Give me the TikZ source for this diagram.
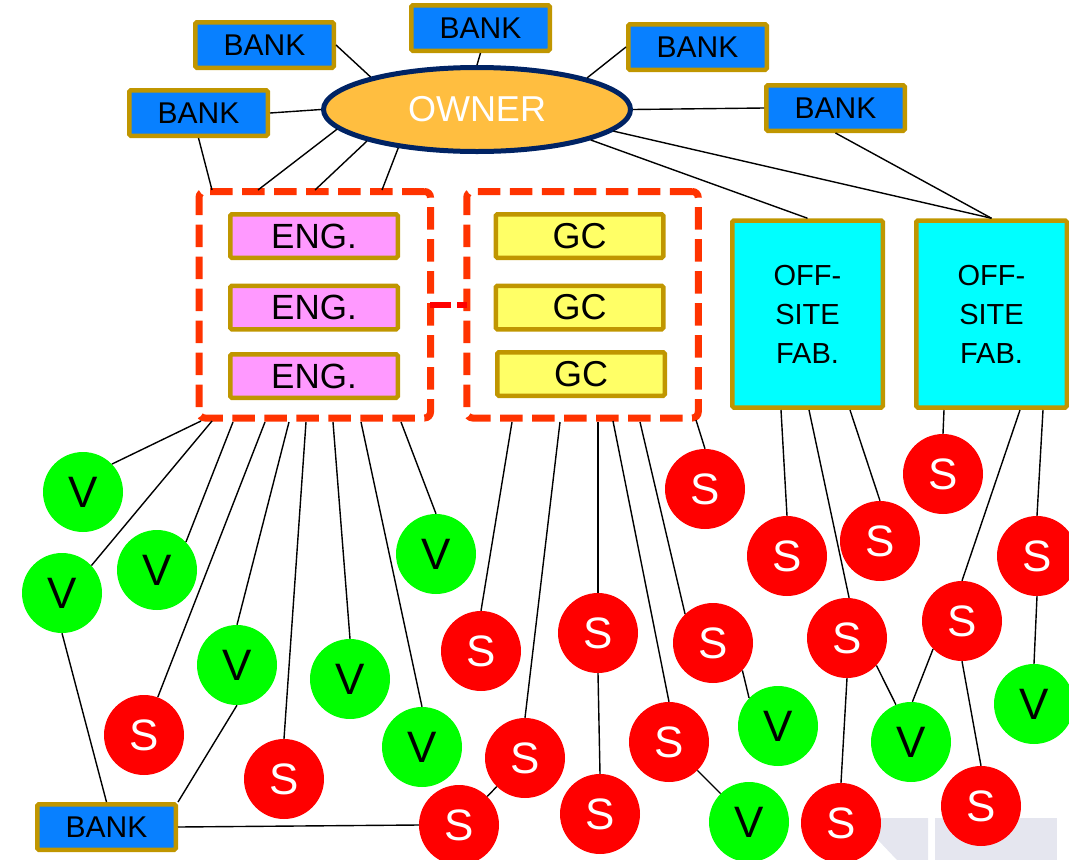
\documentclass[tikz,border=0pt]{standalone}
\usepackage{fontspec}
\setmainfont{Liberation Sans}
\usetikzlibrary{shapes.geometric,calc}
\definecolor{gold}{RGB}{192,150,0}
\definecolor{bankblue}{RGB}{8,128,255}
\definecolor{ownfill}{RGB}{255,190,64}
\definecolor{ownline}{RGB}{0,35,100}
\definecolor{engpink}{RGB}{255,153,255}
\definecolor{gcyellow}{RGB}{255,255,102}
\definecolor{offcyan}{RGB}{0,255,255}
\definecolor{vgreen}{RGB}{0,255,0}
\definecolor{sred}{RGB}{255,0,0}
\definecolor{grporange}{RGB}{255,51,0}
\definecolor{wmark}{RGB}{229,230,239}
\tikzset{
  boxbase/.style={draw=gold, line width=4.5pt, rounded corners=1.5pt, inner sep=0pt},
  bank/.style={boxbase, fill=bankblue, minimum width=138.5pt, minimum height=45.5pt, font=\fontsize{30}{36}\selectfont},
  engbox/.style={boxbase, fill=engpink, minimum width=167.5pt, minimum height=43.5pt, font=\fontsize{35}{40}\selectfont},
  gcbox/.style={boxbase, fill=gcyellow, minimum width=167.5pt, minimum height=43.5pt, font=\fontsize{36}{40}\selectfont},
  offbox/.style={boxbase, fill=offcyan, minimum width=150.5pt, minimum height=187pt, align=center, font=\fontsize{29}{39}\selectfont},
  owner/.style={ellipse, draw=ownline, line width=5pt, fill=ownfill, minimum width=307pt, minimum height=84pt, inner sep=0pt, text=white, font=\fontsize{36}{40}\selectfont},
  vnode/.style={circle, fill=vgreen, minimum size=80pt, inner sep=0pt, font=\fontsize{44}{48}\selectfont},
  snode/.style={circle, fill=sred, text=white, minimum size=80pt, inner sep=0pt, font=\fontsize{44}{48}\selectfont},
  grp/.style={draw=grporange, line width=7pt, dash pattern=on 22.5pt off 9.5pt, rounded corners=6pt, minimum width=231.5pt, minimum height=226.5pt, inner sep=0pt},
  grplink/.style={draw=sred, line width=6.5pt, dash pattern=on 21pt off 6pt, shorten <=-4pt, shorten >=-4pt},
  wire/.style={draw=black, line width=1.4pt},
}
\begin{document}
\begin{tikzpicture}[x=1pt,y=-1pt]
\useasboundingbox (0,0) rectangle (1069,860);
% watermark fragments
\fill[wmark] (878,818) -- (928,818) -- (928,860) -- (897,860) -- (878,840) -- cycle;
\fill[wmark] (935,818) -- (1057,818) -- (1057,860) -- (935,860) -- cycle;

% groups
\node[grp] (grp1) at (314.75,304.75) {};
\node[grp] (grp2) at (582.5,304.75) {};
\draw[grplink] (grp1.east) -- (grp2.west);

% boxes
\node[bank] (bk1) at (264.5,45) {BANK};
\node[bank] (bk2) at (480.5,28) {BANK};
\node[bank] (bk3) at (198.5,113) {BANK};
\node[bank] (bk4) at (697.5,47) {BANK};
\node[bank] (bk5) at (835.5,108) {BANK};
\node[bank] (bk6) at (106.5,827) {BANK};
\node[owner] (own) at (477,109.5) {OWNER};

\node[engbox] (e1) at (314,236) {ENG.};
\node[engbox] (e2) at (314,307.5) {ENG.};
\node[engbox] (e3) at (314,376) {ENG.};
\node[gcbox] (c1) at (579.5,236) {GC};
\node[gcbox] (c2) at (579.5,307.5) {GC};
\node[gcbox] (c3) at (581,374) {GC};

\node[offbox] (off1) at (807.5,314) {OFF-\\SITE\\FAB.};
\node[offbox] (off2) at (991.5,314) {OFF-\\SITE\\FAB.};

% circles
\node[vnode] (v1) at (83,492) {V};
\node[vnode] (v2) at (62,593) {V};
\node[vnode] (v3) at (157,570) {V};
\node[vnode] (v4) at (436,554) {V};
\node[vnode] (v5) at (237,665) {V};
\node[vnode] (v6) at (350,679) {V};
\node[vnode] (v7) at (422,747) {V};
\node[vnode] (v8) at (778,726) {V};
\node[vnode] (v9) at (911,742) {V};
\node[vnode] (v10) at (1034,704) {V};
\node[vnode] (v11) at (749,822) {V};

\node[snode] (s1) at (144,735) {S};
\node[snode] (s2) at (284,779) {S};
\node[snode] (s3) at (525,758) {S};
\node[snode] (s4) at (459,825) {S};
\node[snode] (s5) at (481,651) {S};
\node[snode] (s6) at (705,489) {S};
\node[snode] (s7) at (787,556) {S};
\node[snode] (s8) at (880,541) {S};
\node[snode] (s9) at (943,474) {S};
\node[snode] (s10) at (1037,556) {S};
\node[snode] (s11) at (598,633) {S};
\node[snode] (s12) at (713,643) {S};
\node[snode] (s13) at (847,638) {S};
\node[snode] (s14) at (962,621) {S};
\node[snode] (s15) at (669,742) {S};
\node[snode] (s16) at (600,814) {S};
\node[snode] (s17) at (841,823) {S};
\node[snode] (s18) at (981,806) {S};

% free connector ends on the dashed groups and off-site boxes
\coordinate (gt1) at (212,190);
\coordinate (gt2) at (258,190);
\coordinate (gt3) at (315,190);
\coordinate (gt4) at (382,190);
\coordinate (ga1) at (201,421);
\coordinate (ga2) at (212,421);
\coordinate (ga3) at (233,422);
\coordinate (ga4) at (265,422);
\coordinate (ga5) at (289,422);
\coordinate (ga6) at (306,422);
\coordinate (ga7) at (333,422);
\coordinate (ga8) at (361,422);
\coordinate (ga9) at (401,422);
\coordinate (gb1) at (512,422);
\coordinate (gb2) at (560,422);
\coordinate (gb3) at (598,422);
\coordinate (gb4) at (613,421);
\coordinate (gb5) at (640,422);
\coordinate (gb6) at (696,420);
\coordinate (oa1) at (781,410);
\coordinate (oa2) at (809,410);
\coordinate (oa3) at (850,410);
\coordinate (ob1) at (944,410);
\coordinate (ob2) at (1020,410);
\coordinate (ob3) at (1043,410);

% top connectors
\draw[wire] (bk1.east) -- (own.163);
\draw[wire] (bk2.south) -- (own.north);
\draw[wire] (bk3.east) -- (own.west);
\draw[wire] (bk3.south) -- (gt1);
\draw[wire] (own.188) -- (gt2);
\draw[wire] (own.196) -- (gt3);
\draw[wire] (own.206) -- (gt4);
\draw[wire] (bk4.west) -- (own.16);
\draw[wire] (own.east) -- (bk5.west);
\draw[wire] (bk5.south) -- (off2.north);
\draw[wire] (own.-9) -- (off2.north);
\draw[wire] (own.-15) -- (off1.north);

% from the ENG group
\draw[wire] (ga1) -- (v1.44);
\draw[wire] (ga2) -- (v2.43);
\draw[wire] (ga3) -- (v3.44);
\draw[wire] (ga4) -- (s1.70);
\draw[wire] (ga5) -- (v5.north);
\draw[wire] (ga6) -- (s2.north);
\draw[wire] (ga7) -- (v6.north);
\draw[wire] (ga8) -- (v7.north);
\draw[wire] (ga9) -- (v4.north);
% from the GC group
\draw[wire] (gb1) -- (s5.north);
\draw[wire] (gb2) -- (s3.north);
\draw[wire] (gb3) -- (s11.north);
\draw[wire] (gb4) -- (s15.north);
\draw[wire] (gb5) -- (s12.134);
\draw[wire] (gb6) -- (s6.north);
% from off-site boxes
\draw[wire] (oa1) -- (s7.north);
\draw[wire] (oa2) -- (s13.87);
\draw[wire] (oa3) -- (s8.north);
\draw[wire] (ob1) -- (s9.north);
\draw[wire] (ob2) -- (s14.north);
\draw[wire] (ob3) -- (s10.north);
% among circles and bank
\draw[wire] (v2.south) -- (bk6.north);
\draw[wire] (v5.south) -- (bk6.north east);
\draw[wire] (bk6.east) -- (s4.west);
\draw[wire] (s4) -- (s3);
\draw[wire] (s11.south) -- (s16.north);
\draw[wire] (s15) -- (v11);
\draw[wire] (s12.-43) -- (v8.136);
\draw[wire] (s13.-43) -- (v9.112);
\draw[wire] (s13.south) -- (s17.north);
\draw[wire] (s14.224) -- (v9.88);
\draw[wire] (s14.south) -- (s18.north);
\draw[wire] (s10.south) -- (v10.north);
\end{tikzpicture}
\end{document}
